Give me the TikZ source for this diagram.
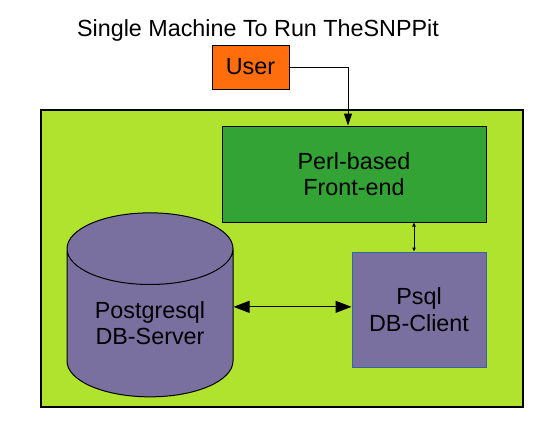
\documentclass[tikz,border=0pt]{standalone}
\usepackage{fontspec}
\setmainfont{Liberation Sans}
\usetikzlibrary{shapes.geometric, arrows.meta}

\definecolor{userorange}{RGB}{255,109,13}
\definecolor{machinelime}{RGB}{176,227,46}
\definecolor{frontgreen}{RGB}{52,163,54}
\definecolor{dbpurple}{RGB}{121,112,160}
\definecolor{clientedge}{RGB}{52,101,164}

\begin{document}
\begin{tikzpicture}[
            x=0.75pt, y=-0.75pt, % one unit is one pixel, y runs downwards
            every node/.style={font=\fontsize{17.5}{20}\selectfont, align=center, inner sep=0pt}, % text of all nodes
            box/.style={draw, rectangle, line width=0.75pt}, % plain boxes
            link/.style={line width=0.75pt} % connectors
            ]

    \useasboundingbox (0,0) rectangle (555,444);

    % the machine frame
    \node[box, fill=machinelime, line width=1.5pt, minimum width=482*0.75pt, minimum height=297*0.75pt] (machine) at (282,258.5) {};

    % title and user above the frame
    \node (title) at (258,30) {Single Machine To Run TheSNPPit};
    \node[box, fill=userorange, minimum width=77*0.75pt, minimum height=44*0.75pt] (user) at (250.5,67) {User};

    % parts inside the machine
    \node[box, fill=frontgreen, minimum width=264*0.75pt, minimum height=96*0.75pt] (frontend) at (354,174) {Perl-based\\Front-end};
    \node[box, draw=clientedge, fill=dbpurple, minimum width=134*0.75pt, minimum height=115*0.75pt] (client) at (419,309.5) {Psql\\DB-Client};
    \node[cylinder, shape border rotate=90, shape aspect=0.65, draw, line width=0.75pt, fill=dbpurple,
          minimum width=166*0.75pt, minimum height=184*0.75pt] (server) at (150,323) {Postgresql\\DB-Server};

    % connectors
    \coordinate (userturn) at (348,67);
    \draw[link, -{Triangle[length=9pt, width=6pt]}] (user.east) -- (userturn) -- (userturn |- frontend.north);
    \draw[link, {Triangle[length=3pt, width=2.5pt]}-{Triangle[length=3pt, width=2.5pt]}]
        ([xshift=-3.75pt]client.north) -- ([xshift=-3.75pt]client.north |- frontend.south);
    \draw[link, {Triangle[length=12pt, width=9pt]}-{Triangle[length=12pt, width=9pt]}]
        ([yshift=2pt]server.east |- client.west) -- ([yshift=2pt]client.west);

\end{tikzpicture}
\end{document}
